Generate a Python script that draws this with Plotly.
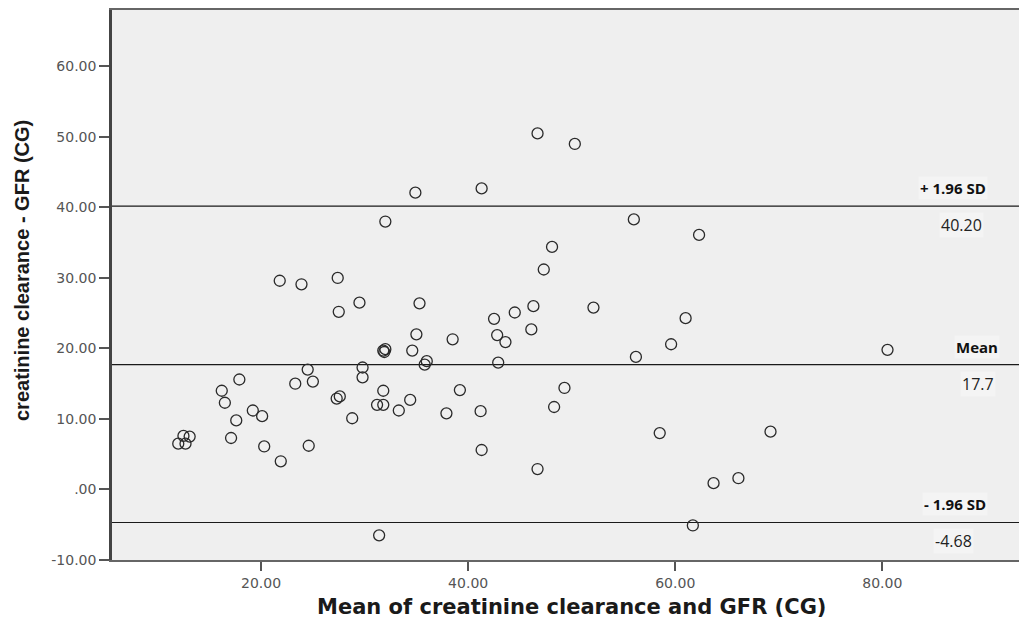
import plotly.graph_objects as go

# Mean of creatinine clearance and GFR (CG)
mean_vals = [12.5, 13.1, 12.0, 12.7, 16.2, 17.9, 16.5, 19.2, 20.1, 17.6,
             17.1, 20.3, 21.9, 24.6, 23.3, 24.5, 25.0, 29.8, 29.8, 27.3,
             27.6, 28.8, 31.8, 31.2, 31.8, 33.3, 34.4, 37.9, 31.4, 31.8,
             32.0, 31.9, 34.6, 36.0, 35.8, 46.7, 50.3, 34.9, 41.3, 32.0,
             56.0, 48.1, 47.3, 21.8, 23.9, 27.4, 27.5, 29.5, 35.3, 52.1,
             46.3, 44.5, 42.5, 46.1, 35.0, 42.8, 43.6, 38.5, 56.2, 42.9,
             59.6, 39.2, 41.2, 49.3, 48.3, 41.3, 46.7, 58.5, 63.7, 66.1,
             61.7, 62.3, 61.0, 80.5, 69.2]
# creatinine clearance - GFR (CG)
diff_vals = [7.6, 7.5, 6.5, 6.5, 14.0, 15.6, 12.3, 11.2, 10.4, 9.8,
             7.3, 6.1, 4.0, 6.2, 15.0, 17.0, 15.3, 17.3, 15.9, 12.9,
             13.2, 10.1, 14.0, 12.0, 12.0, 11.2, 12.7, 10.8, -6.5, 19.7,
             19.9, 19.5, 19.7, 18.2, 17.7, 50.5, 49.0, 42.1, 42.7, 38.0,
             38.3, 34.4, 31.2, 29.6, 29.1, 30.0, 25.2, 26.5, 26.4, 25.8,
             26.0, 25.1, 24.2, 22.7, 22.0, 21.9, 20.9, 21.3, 18.8, 18.0,
             20.6, 14.1, 11.1, 14.4, 11.7, 5.6, 2.9, 8.0, 0.9, 1.6,
             -5.1, 36.1, 24.3, 19.8, 8.2]

ref_values = [40.20, 17.7, -4.68]
ref_names = ["+ 1.96 SD", "Mean", "- 1.96 SD"]
ref_texts = ["40.20", "17.7", "-4.68"]
ref_label_x = [953, 977, 955]
ref_value_x = [961, 978, 953]

x_title = "Mean of creatinine clearance and GFR (CG)"
y_title = "creatinine clearance - GFR (CG)"

x_ticks = [20, 40, 60, 80]
x_ticklabels = ["20.00", "40.00", "60.00", "80.00"]
y_ticks = [-10, 0, 10, 20, 30, 40, 50, 60]
y_ticklabels = ["-10.00", ".00", "10.00", "20.00", "30.00", "40.00", "50.00", "60.00"]

W, H = 1019, 619
L, R, T, B = 112, 0, 10, 59
pw = W - L - R
ph = H - T - B

fig = go.Figure()
fig.add_trace(go.Scatter(
    x=mean_vals, y=diff_vals, mode="markers",
    marker=dict(symbol="circle-open", size=11, color="#2a2a2a",
                line=dict(width=1.3, color="#2a2a2a")),
    showlegend=False, hoverinfo="x+y"))

for v in ref_values:
    fig.add_shape(type="line", xref="paper", x0=0, x1=1, yref="y", y0=v, y1=v,
                  line=dict(color="#1a1a1a", width=1.2), layer="below")

for name, txt, v, lx, vx in zip(ref_names, ref_texts, ref_values, ref_label_x, ref_value_x):
    fig.add_annotation(text="<b>" + name + "</b>", xref="paper", x=(lx - L) / pw,
                       yref="y", y=v, yshift=18, showarrow=False,
                       font=dict(family="Open Sans, sans-serif", size=15, color="#111"),
                       bgcolor="#f4f4f4", xanchor="center", yanchor="middle")
    fig.add_annotation(text=txt, xref="paper", x=(vx - L) / pw,
                       yref="y", y=v, yshift=-19, showarrow=False,
                       font=dict(family="Open Sans, sans-serif", size=16, color="#222"),
                       bgcolor="#f4f4f4", xanchor="center", yanchor="middle")

# axis titles
fig.add_annotation(text="<b>" + x_title + "</b>", xref="paper", yref="paper",
                   x=(571 - L) / pw, y=(H - B - 607) / ph, showarrow=False,
                   xanchor="center", yanchor="middle",
                   font=dict(family="DejaVu Sans, sans-serif", size=21, color="#1a1a1a"))
fig.add_annotation(text="<b>" + y_title + "</b>", xref="paper", yref="paper",
                   x=(22 - L) / pw, y=(H - B - 271) / ph, showarrow=False,
                   textangle=-90, xanchor="center", yanchor="middle",
                   font=dict(family="Liberation Sans, Arial, sans-serif", size=20, color="#1a1a1a"))

fig.update_layout(
    width=W, height=H,
    margin=dict(l=L, r=R, t=T, b=B),
    paper_bgcolor="white", plot_bgcolor="#efefef",
    font=dict(family="Liberation Sans, Arial, sans-serif", color="#555"),
    xaxis=dict(range=[5.6, 93.2], tickvals=x_ticks, ticktext=x_ticklabels,
               showgrid=False, zeroline=False, showline=True, linecolor="#666",
               linewidth=2, mirror=True, ticks="outside", ticklen=9, tickwidth=1.5,
               tickcolor="#555", tickfont=dict(family="DejaVu Sans, sans-serif", size=14, color="#555")),
    yaxis=dict(range=[-10, 68.0], tickvals=y_ticks, ticktext=y_ticklabels,
               showgrid=False, zeroline=False, showline=True, linecolor="#444",
               linewidth=2.5, ticks="outside", ticklen=10, tickwidth=1.5,
               tickcolor="#555", tickfont=dict(family="DejaVu Sans, sans-serif", size=14, color="#555")),
)

fig.write_html("out.html", config={"displayModeBar": False},
               post_script="document.body.style.margin='0';")
